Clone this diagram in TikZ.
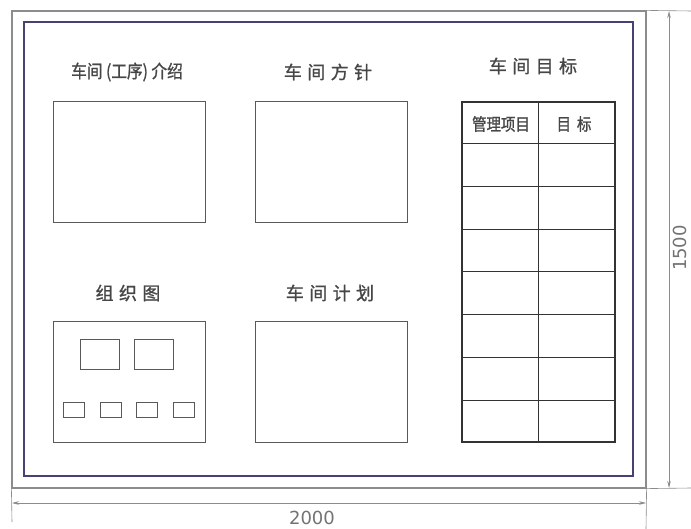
\documentclass[tikz,border=0pt]{standalone}
\usepackage{fontspec}
\setsansfont{DejaVu Sans}
\newfontfamily\cjk{Noto Sans CJK SC}
\usepackage{tikz}
\usetikzlibrary{positioning, calc, arrows.meta}
\definecolor{boardline}{RGB}{72,66,112}
\definecolor{inktext}{RGB}{70,70,70}

\begin{document}
\begin{tikzpicture}[x=1pt, y=-1pt,
        frame/.style={draw=black!45, line width=1.2pt, inner sep=0pt},
        board/.style={draw=boardline, line width=2.5pt, inner sep=0pt},
        panel/.style={draw=black!65, line width=1pt, inner sep=0pt, minimum width=152pt, minimum height=121pt},
        minibox/.style={draw=black!65, line width=0.9pt, inner sep=0pt},
        grid/.style={draw=black!80, line width=1pt},
        title/.style={font=\cjk\fontsize{18}{18}\selectfont\addfontfeature{LetterSpace=30,FakeBold=1.2}, text=inktext},
        head/.style={font=\cjk\fontsize{17}{17}\selectfont\addfontfeature{FakeBold=1.2}, text=inktext, xscale=0.85},
        dimline/.style={draw=black!45, line width=0.6pt},
        dimarrow/.style={dimline, {Stealth[length=7pt,width=3.5pt]}-{Stealth[length=7pt,width=3.5pt]}},
        dimlab/.style={font=\sffamily\fontsize{18}{18}\selectfont, text=black!55, inner sep=0pt}
    ]
    \useasboundingbox (0,0) rectangle (691,529);

    % frames
    \node[frame, minimum width=634pt, minimum height=477pt] (outer) at (329,249.5) {};
    \node[board, minimum width=609pt, minimum height=454pt] (board) at (328.5,249) {};

    % panels
    \node[panel] (intro) at (129,162.5) {};
    \node[panel] (policy) at (331,162.5) {};
    \node[panel, minimum height=120pt] (org) at (129.5,382) {};
    \node[panel, minimum height=120pt] (plan) at (331.5,382) {};

    \node[title, xscale=0.87, font=\cjk\fontsize{18}{18}\selectfont\addfontfeature{FakeBold=1.2}] at (127,72) {车间 (工序) 介绍};
    \node[title] at (328,72) {车间方针};
    \node[title] at (533,66) {车间目标};
    \node[title] at (128,293) {组织图};
    \node[title] at (330,293) {车间计划};

    % organisation chart
    \node[minibox, minimum width=39pt, minimum height=30pt] (boss1) at (99.5,354) {};
    \node[minibox, minimum width=39pt, minimum height=30pt] (boss2) at (153.5,354) {};
    \foreach \i/\x in {1/73.5, 2/110.5, 3/147, 4/184}
        \node[minibox, minimum width=21pt, minimum height=15pt] (team\i) at (\x,409.5) {};

    % goal table
    \node[draw=black!80, line width=1.8pt, inner sep=0pt, minimum width=153pt, minimum height=340pt] (goals) at (538.5,272) {};
    \draw[grid] (goals.north) -- (goals.south);
    \foreach \k in {1,...,7}
        \draw[grid] ($(goals.north west)!\k/8!(goals.south west)$) -- ($(goals.north east)!\k/8!(goals.south east)$);
    \node[head] (item) at (501,124) {管理项目};
    \node[head] (target) at (574,124) {目\hspace{7pt}标};

    % dimensions
    \coordinate (topx) at (691,11);
    \coordinate (botx) at (691,488);
    \coordinate (leftx) at (12,522);
    \coordinate (rightx) at (646,529);
    \draw[dimline] (outer.north east) -- (topx);
    \draw[dimline] (outer.south east) -- (botx);
    \draw[dimline] (outer.south west) -- (leftx);
    \draw[dimline] (outer.south east) -- (rightx);

    \coordinate (wl) at (12,503);
    \coordinate (wr) at (646,503);
    \coordinate (ht) at (669,11);
    \coordinate (hb) at (669,488);
    \draw[dimarrow] (wl) -- (wr);
    \draw[dimarrow] (ht) -- (hb);
    \node[dimlab] (width) at (312,518) {2000};
    \node[dimlab, rotate=90] (height) at (680,248) {1500};

\end{tikzpicture}
\end{document}
